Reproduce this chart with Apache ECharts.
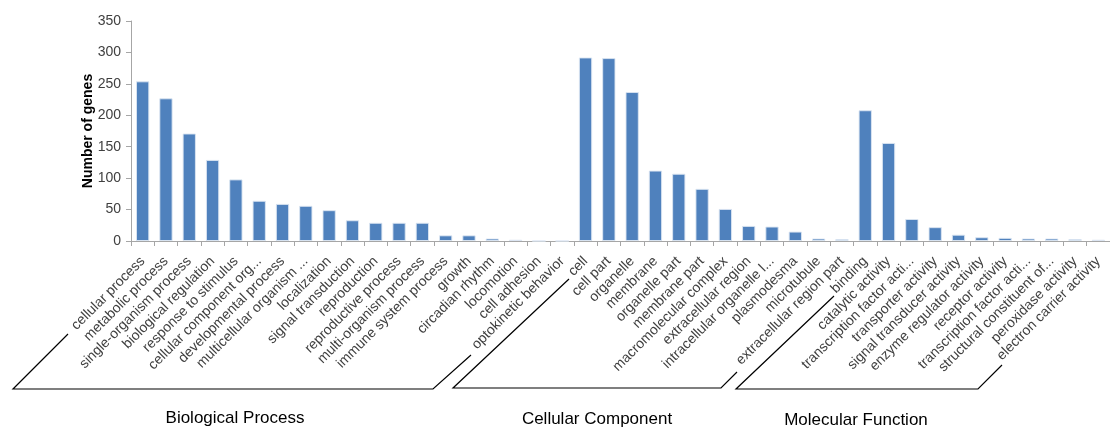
<!DOCTYPE html>
<html>
<head>
<meta charset="utf-8">
<script src="https://cdn.jsdelivr.net/npm/echarts@6/dist/echarts.min.js"></script>
<style>
html,body{margin:0;padding:0;background:#fff;}
#chart{width:1110px;height:427px;}
</style>
</head>
<body>
<div id="chart"></div>
<script>
var bpCategories = ['cellular process','metabolic process','single-organism process','biological regulation','response to stimulus','cellular component org...','developmental process','multicellular organism ...','localization','signal transduction','reproduction','reproductive process','multi-organism process','immune system process','growth','circadian rhythm','locomotion','cell adhesion','optokinetic behavior'];
var bpValues = [254, 227, 171, 129, 98, 64, 59, 56, 49, 33, 29, 29, 29, 9, 9, 4, 2, 0, 0];
var ccCategories = ['cell','cell part','organelle','membrane','organelle part','membrane part','macromolecular complex','extracellular region','intracellular organelle l...','plasmodesma','microtubule','extracellular region part'];
var ccValues = [292, 291, 237, 112, 107, 83, 51, 24, 23, 15, 4, 3];
var mfCategories = ['binding','catalytic activity','transcription factor acti...','transporter activity','signal transducer activity','enzyme regulator activity','receptor activity','transcription factor acti...','structural constituent of...','peroxidase activity','electron carrier activity'];
var mfValues = [208, 156, 35, 22, 10, 6, 5, 4, 4, 3, 2];
var groupNames = ['Biological Process', 'Cellular Component', 'Molecular Function'];
var yAxisName = 'Number of genes';
var yTicks = [0, 50, 100, 150, 200, 250, 300, 350];

var categories = bpCategories.concat(ccCategories, mfCategories);
var values = bpValues.concat(ccValues, mfValues);

var FONT = '"Liberation Sans", Arial, sans-serif';
var chart = echarts.init(document.getElementById('chart'), null, {renderer: 'canvas'});

var bracketStyle = {stroke: '#000', lineWidth: 1.2, fill: null};
var titleStyle = function (t, x, y) {
  return {type: 'text', x: x, y: y, style: {text: t, fill: '#000', font: '17px ' + FONT, textAlign: 'center', textVerticalAlign: 'middle'}};
};

chart.setOption({
  animation: false,
  backgroundColor: '#fff',
  grid: {left: 131, right: -11, top: 21, bottom: 186, containLabel: false},
  xAxis: {
    type: 'category',
    data: categories,
    axisLine: {lineStyle: {color: '#A6A6A6', width: 1}},
    axisTick: {show: true, alignWithLabel: false, length: 5, lineStyle: {color: '#A6A6A6'}},
    axisLabel: {interval: 0, rotate: 45, margin: 18, fontSize: 14, fontFamily: FONT, color: '#404040'}
  },
  yAxis: {
    type: 'value',
    min: yTicks[0],
    max: yTicks[yTicks.length - 1],
    interval: yTicks[1] - yTicks[0],
    name: yAxisName,
    nameLocation: 'middle',
    nameGap: 36,
    nameRotate: 90,
    nameMoveOverlap: false,
    nameTextStyle: {fontSize: 14, fontWeight: 'bold', fontFamily: FONT, color: '#000'},
    axisLine: {show: true, lineStyle: {color: '#A6A6A6'}},
    axisTick: {show: true, length: 5, lineStyle: {color: '#A6A6A6'}},
    splitLine: {show: false},
    axisLabel: {fontSize: 14, fontFamily: FONT, color: '#404040', margin: 10}
  },
  series: [{
    type: 'bar',
    data: values,
    barCategoryGap: '43%',
    itemStyle: {color: '#4F81BD', borderColor: 'rgba(220,230,242,0.9)', borderWidth: 1}
  }],
  graphic: [
    {type: 'polyline', shape: {points: [[68,334],[13,389],[433,389],[471,355]]}, style: bracketStyle},
    {type: 'polyline', shape: {points: [[569,279],[453,388],[721,388],[737,372]]}, style: bracketStyle},
    {type: 'polyline', shape: {points: [[834,296],[736,389],[978,389],[1002,365]]}, style: bracketStyle},
    titleStyle(groupNames[0], 235, 418),
    titleStyle(groupNames[1], 597, 419),
    titleStyle(groupNames[2], 856, 420)
  ]
});
</script>
</body>
</html>
